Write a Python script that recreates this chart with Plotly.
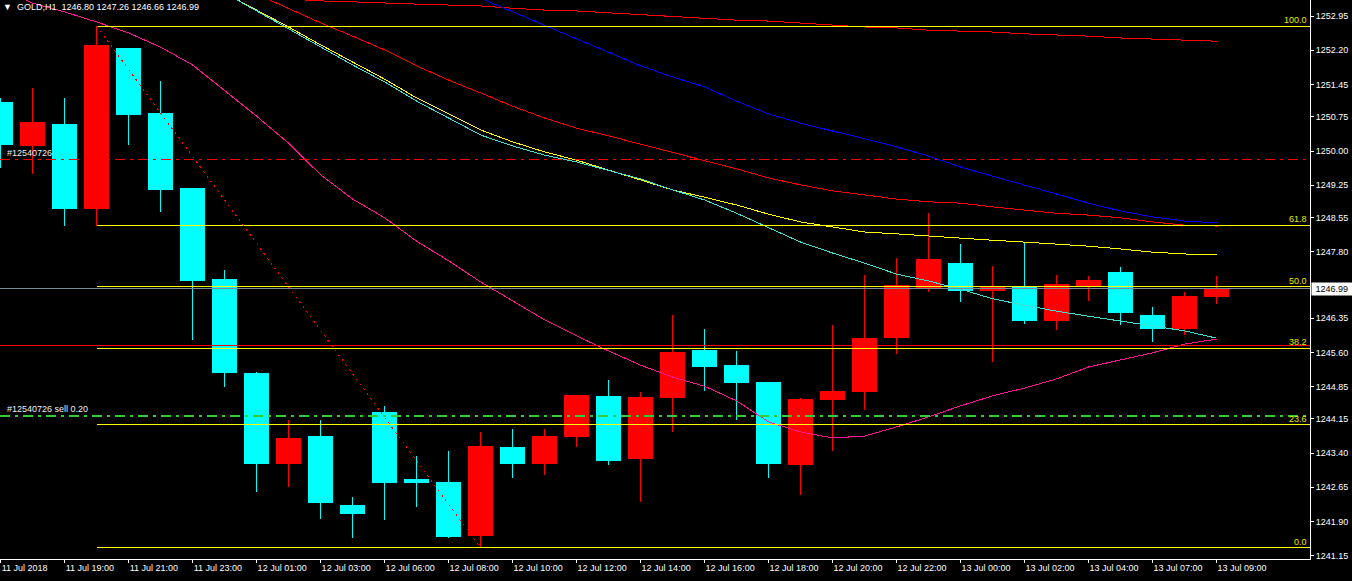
import plotly.graph_objects as go

# ---------------- data ----------------
times = ["11 Jul 17:00", "11 Jul 18:00", "11 Jul 19:00", "11 Jul 20:00", "11 Jul 21:00",
         "11 Jul 22:00", "11 Jul 23:00", "12 Jul 00:00", "12 Jul 01:00", "12 Jul 02:00",
         "12 Jul 03:00", "12 Jul 05:00", "12 Jul 06:00", "12 Jul 07:00", "12 Jul 08:00",
         "12 Jul 09:00", "12 Jul 10:00", "12 Jul 11:00", "12 Jul 12:00", "12 Jul 13:00",
         "12 Jul 14:00", "12 Jul 15:00", "12 Jul 16:00", "12 Jul 17:00", "12 Jul 18:00",
         "12 Jul 19:00", "12 Jul 20:00", "12 Jul 21:00", "12 Jul 22:00", "12 Jul 23:00",
         "13 Jul 00:00", "13 Jul 01:00", "13 Jul 02:00", "13 Jul 03:00", "13 Jul 04:00",
         "13 Jul 06:00", "13 Jul 07:00", "13 Jul 08:00", "13 Jul 09:00"]

opens = [1251.05, 1250.11, 1250.56, 1248.73, 1252.23, 1250.80, 1249.18, 1247.19, 1245.13, 1243.15,
         1243.75, 1242.25, 1244.28, 1242.80, 1242.74, 1241.59, 1243.51, 1243.15, 1243.74, 1244.63,
         1243.26, 1244.61, 1245.62, 1245.31, 1244.92, 1243.13, 1244.55, 1244.74, 1245.91, 1247.01,
         1247.54, 1246.93, 1247.00, 1246.29, 1247.06, 1247.34, 1246.39, 1246.10, 1246.80]
highs = [1251.15, 1251.38, 1251.16, 1252.73, 1252.25, 1251.54, 1249.20, 1247.41, 1245.17, 1244.12,
         1244.12, 1242.44, 1244.43, 1243.34, 1243.44, 1243.87, 1243.93, 1243.93, 1244.66, 1245.00,
         1244.74, 1246.42, 1246.12, 1245.62, 1244.95, 1244.61, 1246.20, 1247.30, 1247.67, 1248.65,
         1247.96, 1247.48, 1247.98, 1247.28, 1247.26, 1247.46, 1246.60, 1246.92, 1247.26]
lows = [1249.62, 1249.49, 1248.36, 1248.37, 1250.13, 1248.66, 1245.87, 1244.85, 1242.55, 1242.65,
        1241.95, 1241.55, 1241.94, 1242.21, 1241.55, 1241.33, 1242.86, 1242.91, 1243.53, 1243.14,
        1242.32, 1243.87, 1244.75, 1244.13, 1242.86, 1242.49, 1243.45, 1244.35, 1245.56, 1246.91,
        1246.69, 1245.40, 1246.23, 1246.08, 1246.72, 1246.19, 1245.82, 1245.99, 1246.66]
closes = [1250.13, 1250.61, 1248.73, 1252.30, 1250.79, 1249.15, 1247.15, 1245.14, 1243.17, 1243.71,
          1242.31, 1242.07, 1242.75, 1242.75, 1241.57, 1243.54, 1243.15, 1243.75, 1244.65, 1243.23,
          1244.61, 1245.59, 1245.27, 1244.92, 1243.15, 1244.55, 1244.74, 1245.90, 1247.06, 1247.61,
          1246.93, 1247.00, 1246.28, 1247.08, 1247.15, 1246.45, 1246.11, 1246.80, 1246.99]

ma_pink = [1253.56, 1253.23, 1253.04, 1252.82, 1252.58, 1252.27, 1251.88, 1251.33, 1250.76, 1250.17,
           1249.48, 1248.95, 1248.54, 1248.03, 1247.60, 1247.14, 1246.72, 1246.31, 1245.96, 1245.63,
           1245.32, 1245.06, 1244.86, 1244.54, 1244.08, 1243.86, 1243.73, 1243.77, 1243.97, 1244.19,
           1244.43, 1244.65, 1244.82, 1245.02, 1245.28, 1245.43, 1245.59, 1245.78, 1245.89]
ma_turq = [None] * 6 + [1253.85, 1253.45, 1253.06, 1252.67, 1252.27, 1251.88, 1251.51, 1251.09, 1250.72,
                        1250.35, 1250.11, 1249.91, 1249.76, 1249.58, 1249.39, 1249.15, 1248.93, 1248.64,
                        1248.32, 1248.01, 1247.77, 1247.55, 1247.31, 1247.16, 1246.98, 1246.77, 1246.63,
                        1246.50, 1246.39, 1246.28, 1246.18, 1246.07, 1245.91]
ma_yellow = [None] * 6 + [1253.85, 1253.45, 1253.08, 1252.71, 1252.32, 1251.94, 1251.57, 1251.16, 1250.81,
                          1250.46, 1250.20, 1249.98, 1249.80, 1249.58, 1249.37, 1249.15, 1248.99, 1248.82,
                          1248.62, 1248.45, 1248.34, 1248.23, 1248.19, 1248.14, 1248.10, 1248.05, 1248.01,
                          1247.97, 1247.92, 1247.86, 1247.79, 1247.75, 1247.73]
ma_red = [None] * 8 + [1253.43, 1253.12, 1252.80, 1252.51, 1252.21, 1251.86, 1251.55, 1251.27, 1250.98,
                       1250.72, 1250.50, 1250.33, 1250.15, 1249.98, 1249.80, 1249.61, 1249.41, 1249.26,
                       1249.13, 1249.04, 1248.95, 1248.89, 1248.86, 1248.78, 1248.71, 1248.64, 1248.60,
                       1248.54, 1248.45, 1248.38, 1248.36]
ma_blue = [None] * 15 + [1253.34, 1253.04, 1252.75, 1252.45, 1252.16, 1251.86, 1251.62, 1251.40, 1251.09,
                         1250.81, 1250.61, 1250.44, 1250.26, 1250.09, 1249.89, 1249.65, 1249.45, 1249.26,
                         1249.06, 1248.86, 1248.69, 1248.56, 1248.47, 1248.43]
ma_darkred = [None] * 9 + [1253.32, 1253.28, 1253.26, 1253.23, 1253.21, 1253.19, 1253.17, 1253.12, 1253.08,
                           1253.06, 1253.02, 1252.99, 1252.95, 1252.91, 1252.86, 1252.84, 1252.80, 1252.75,
                           1252.71, 1252.69, 1252.64, 1252.62, 1252.60, 1252.56, 1252.54, 1252.51, 1252.47,
                           1252.45, 1252.43, 1252.40]

fib_high, fib_high_bar = 1252.73, 3
fib_low, fib_low_bar = 1241.33, 15
fib_levels = [0.0, 23.6, 38.2, 50.0, 61.8, 100.0]

sl_price = 1249.81
entry_price = 1244.21
red_line_price = 1245.75
bid_price = 1246.99
order_label = "#12540726"
entry_label = "#12540726 sell 0.20"
header = "GOLD,H1  1246.80 1247.26 1246.66 1246.99"

x_tick_labels = ["11 Jul 2018", "11 Jul 19:00", "11 Jul 21:00", "11 Jul 23:00", "12 Jul 01:00",
                 "12 Jul 03:00", "12 Jul 06:00", "12 Jul 08:00", "12 Jul 10:00", "12 Jul 12:00",
                 "12 Jul 14:00", "12 Jul 16:00", "12 Jul 18:00", "12 Jul 20:00", "12 Jul 22:00",
                 "13 Jul 00:00", "13 Jul 02:00", "13 Jul 04:00", "13 Jul 07:00", "13 Jul 09:00"]
y_tick_labels = ["1252.95", "1252.20", "1251.45", "1250.75", "1250.00", "1249.25", "1248.55", "1247.80",
                 "1246.35", "1245.60", "1244.85", "1244.15", "1243.40", "1242.65", "1241.90", "1241.15"]

# ---------------- styling ----------------
BULL = "#FF0000"
BEAR = "#00FFFF"
FONT = "Liberation Sans"
X_MAX = 40.92
X_MIN = -0.02
DASHDOT = "10px,5px,3px,5px"

n = len(opens)
xs = list(range(n))
is_bull = [c >= o for o, c in zip(opens, closes)]

fig = go.Figure()

# wicks
for flag, col in ((True, BULL), (False, BEAR)):
    wx, wy = [], []
    for i in xs:
        if is_bull[i] == flag:
            wx += [i, i, None]
            wy += [lows[i], highs[i], None]
    fig.add_trace(go.Scatter(x=wx, y=wy, mode="lines", line=dict(color=col, width=1),
                             hoverinfo="skip", showlegend=False))

# bodies
fig.add_trace(go.Bar(
    x=xs,
    base=[min(o, c) for o, c in zip(opens, closes)],
    y=[abs(c - o) for o, c in zip(opens, closes)],
    width=0.75,
    marker=dict(color=[BULL if b else BEAR for b in is_bull],
                line=dict(color=[BULL if b else BEAR for b in is_bull], width=1)),
    customdata=times,
    hovertemplate="%{customdata}<extra></extra>",
    showlegend=False,
))

# moving averages
for series, col in ((ma_darkred, "#FF0000"), (ma_blue, "#0000FF"), (ma_red, "#FF0000"),
                    (ma_yellow, "#FFFF00"), (ma_turq, "#40E0D0"), (ma_pink, "#FF1493")):
    fig.add_trace(go.Scatter(x=xs, y=series, mode="lines", line=dict(color=col, width=1),
                             hoverinfo="skip", showlegend=False, connectgaps=False))

# fibonacci levels
for lv in fib_levels:
    price = fib_low + (fib_high - fib_low) * lv / 100.0
    fig.add_trace(go.Scatter(x=[fib_high_bar, X_MAX], y=[price, price], mode="lines",
                             line=dict(color="#FFFF00", width=1), hoverinfo="skip", showlegend=False))
    fig.add_annotation(x=1, xref="paper", y=price, yref="y", text=f"{lv:.1f}", showarrow=False,
                       xanchor="right", yanchor="bottom", xshift=-2, yshift=0,
                       font=dict(family=FONT, size=9, color="#E8E800"), borderpad=0)

# fibonacci trendline
fig.add_trace(go.Scatter(x=[fib_high_bar, fib_low_bar], y=[fib_high, fib_low], mode="lines",
                         line=dict(color="#FF0000", width=1, dash="2px,4px"),
                         hoverinfo="skip", showlegend=False))

# horizontal lines
fig.add_shape(type="line", xref="paper", x0=0, x1=1, yref="y", y0=bid_price, y1=bid_price,
              line=dict(color="#778899", width=1))
fig.add_shape(type="line", xref="paper", x0=0, x1=1, yref="y", y0=red_line_price, y1=red_line_price,
              line=dict(color="#FF0000", width=1))
fig.add_shape(type="line", xref="paper", x0=0, x1=0.997, yref="y", y0=sl_price, y1=sl_price,
              line=dict(color="#FF0000", width=1.3, dash=DASHDOT))
fig.add_shape(type="line", xref="paper", x0=0, x1=0.997, yref="y", y0=entry_price, y1=entry_price,
              line=dict(color="#32CD32", width=1.3, dash=DASHDOT))

# order labels
for txt, price in ((order_label, sl_price), (entry_label, entry_price)):
    fig.add_annotation(x=0, xref="paper", y=price, yref="y", text=txt, showarrow=False,
                       xanchor="left", yanchor="bottom", xshift=6, yshift=1,
                       font=dict(family=FONT, size=9, color="#F0F0F0"), borderpad=0)

# header
fig.add_annotation(x=0, xref="paper", y=1, yref="paper", text="\u25BC\u00a0\u00a0" + header.replace(" ", "\u00a0"),
                   showarrow=False, xanchor="left", yanchor="top", xshift=2, yshift=-1,
                   font=dict(family=FONT, size=9, color="#FFFFFF"), borderpad=0)

# current price label
fig.add_annotation(x=1, xref="paper", y=bid_price, yref="y", text="\u00a0" + f"{bid_price:.2f}" + "\u00a0",
                   showarrow=False, xanchor="left", yanchor="middle", xshift=1,
                   font=dict(family=FONT, size=9, color="#000000"), bgcolor="#FFFFFF", borderpad=1)

fig.update_layout(
    width=1352, height=581,
    margin=dict(l=0, r=42, t=0, b=22),
    paper_bgcolor="#000000", plot_bgcolor="#000000",
    barmode="overlay", bargap=0,
    showlegend=False,
    xaxis=dict(range=[X_MIN, X_MAX], showgrid=False, zeroline=False,
               tickvals=list(range(0, n, 2)), ticktext=x_tick_labels,
               ticks="outside", ticklen=3, tickcolor="#FFFFFF",
               ticklabelposition="outside right",
               showline=True, linecolor="#FFFFFF", linewidth=1,
               tickfont=dict(family=FONT, size=9, color="#FFFFFF")),
    yaxis=dict(range=[1241.084, 1253.30], side="right", showgrid=False, zeroline=False,
               tickvals=[float(v) for v in y_tick_labels], ticktext=y_tick_labels,
               ticks="outside", ticklen=3, tickcolor="#FFFFFF",
               showline=True, linecolor="#FFFFFF", linewidth=1,
               tickfont=dict(family=FONT, size=9, color="#FFFFFF")),
)

post = ("document.body.style.margin='0';document.body.style.overflow='hidden';"
        "document.querySelectorAll('.js-plotly-plot path').forEach(function(p){p.style.shapeRendering='crispEdges';});")
fig.write_html("out.html", config={"displayModeBar": False}, post_script=post)
